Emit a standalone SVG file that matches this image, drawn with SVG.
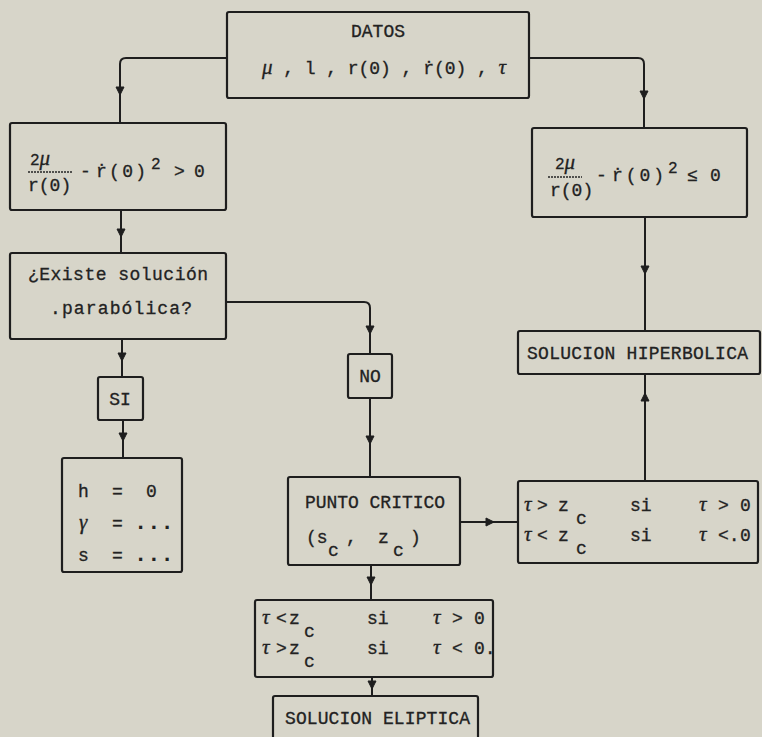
<svg xmlns="http://www.w3.org/2000/svg" xmlns:xlink="http://www.w3.org/1999/xlink" width="762" height="737" viewBox="0 0 762 737">
<style>
.bx{fill:#d7d5c9;stroke:#1e1e1e;stroke-width:2.2}
.ln{fill:none;stroke:#1e1e1e;stroke-width:2}
.ah{fill:#1e1e1e;stroke:#1e1e1e;stroke-width:1}
.t{font-family:"Liberation Mono","DejaVu Sans Mono",monospace;font-size:18px;fill:#222;stroke:#222;stroke-width:0.3}
.g{font-family:"Liberation Serif","DejaVu Serif",serif;font-style:italic;font-size:21px;fill:#222;stroke:#222;stroke-width:0.3}
.s{font-family:"Liberation Mono","DejaVu Sans Mono",monospace;font-size:16px;fill:#222;stroke:#222;stroke-width:0.3}
.d{font-family:"Liberation Mono","DejaVu Sans Mono",monospace;font-size:22px;font-weight:bold;fill:#222}
.bar{stroke:#242424;stroke-width:1.3;stroke-dasharray:2 1}
</style>
<defs>
<path id="ad" class="ah" d="M-4,-4 L4,-4 L0,4 Z"/>
</defs>
<rect width="762" height="737" fill="#d7d5c9"/>

<g id="connectors">
<path class="ln" d="M227,58 H126 Q120,58 120,64 V123"/>
<use xlink:href="#ad" x="120" y="91"/>
<path class="ln" d="M529,58 H638 Q644,58 644,64 V128"/>
<use xlink:href="#ad" x="644" y="95"/>
<path class="ln" d="M121,210 V253"/>
<use xlink:href="#ad" x="121" y="233"/>
<path class="ln" d="M122,339 V377"/>
<use xlink:href="#ad" x="122" y="357"/>
<path class="ln" d="M123,420 V458"/>
<use xlink:href="#ad" x="123" y="437"/>
<path class="ln" d="M226,302 H364 Q370,302 370,308 V354"/>
<use xlink:href="#ad" x="370" y="330"/>
<path class="ln" d="M370,398 V477"/>
<use xlink:href="#ad" x="370" y="440"/>
<path class="ln" d="M460,522 H518"/>
<use xlink:href="#ad" transform="translate(490,522) rotate(-90)"/>
<path class="ln" d="M645,217 V331"/>
<use xlink:href="#ad" x="645" y="270"/>
<path class="ln" d="M645,481 V374"/>
<use xlink:href="#ad" transform="translate(645,397) rotate(180)"/>
<path class="ln" d="M371,565 V600"/>
<use xlink:href="#ad" x="371" y="581"/>
<path class="ln" d="M372,677 V696"/>
<use xlink:href="#ad" x="372" y="685"/>
</g>

<g id="datos">
<rect class="bx" x="227" y="12" width="302" height="86" rx="2"/>
<text class="t" x="378" y="37" text-anchor="middle">DATOS</text>
<text class="t" x="262" y="74" textLength="244"><tspan class="g">μ</tspan> , l , r(0) , ṙ(0) , <tspan class="g">τ</tspan></text>
</g>

<g id="cond-pos">
<rect class="bx" x="10" y="123" width="216" height="87" rx="2"/>
<text class="s" x="30" y="165"><tspan>2</tspan><tspan class="g" font-size="17">μ</tspan></text>
<line class="bar" x1="28" y1="172" x2="72" y2="172"/>
<text class="t" x="28" y="191" font-size="19">r(0)</text>
<text class="t" x="80" y="177" font-size="19">-</text>
<text class="t" x="96" y="177" font-size="19" textLength="50">ṙ(0)</text>
<text class="s" x="151" y="169" font-size="12">2</text>
<text class="t" x="174" y="177" font-size="19">&gt;</text>
<text class="t" x="194" y="177" font-size="19">0</text>
</g>

<g id="cond-neg">
<rect class="bx" x="532" y="128" width="215" height="89" rx="2"/>
<text class="s" x="555" y="169"><tspan>2</tspan><tspan class="g" font-size="17">μ</tspan></text>
<line class="bar" x1="548" y1="177" x2="582" y2="177"/>
<text class="t" x="550" y="196" font-size="19">r(0)</text>
<text class="t" x="596" y="181" font-size="19">-</text>
<text class="t" x="612" y="181" font-size="19" textLength="52">ṙ(0)</text>
<text class="s" x="668" y="173" font-size="12">2</text>
<text class="t" x="687" y="181" font-size="19">≤</text>
<text class="t" x="710" y="181" font-size="19">0</text>
</g>

<g id="existe">
<rect class="bx" x="10" y="253" width="216" height="86" rx="2"/>
<text class="t" x="28" y="280" textLength="180">¿Existe solución</text>
<text class="t" x="50" y="314" textLength="142">.parabólica?</text>
</g>

<g id="si">
<rect class="bx" x="98" y="377" width="45" height="43" rx="2"/>
<text class="t" x="120" y="405" text-anchor="middle">SI</text>
</g>

<g id="hbox">
<rect class="bx" x="62" y="458" width="120" height="114" rx="2"/>
<text class="t" x="78" y="497">h</text>
<text class="t" x="112" y="497">=</text>
<text class="t" x="146" y="497">0</text>
<text class="g" x="79" y="529">γ</text>
<text class="t" x="112" y="529">=</text>
<text class="d" x="134" y="529">...</text>
<text class="t" x="78" y="561">s</text>
<text class="t" x="112" y="561">=</text>
<text class="d" x="134" y="561">...</text>
</g>

<g id="no">
<rect class="bx" x="348" y="354" width="44" height="44" rx="2"/>
<text class="t" x="370" y="382" text-anchor="middle">NO</text>
</g>

<g id="punto">
<rect class="bx" x="288" y="477" width="172" height="88" rx="2"/>
<text class="t" x="305" y="508" textLength="140">PUNTO CRITICO</text>
<text class="t" x="306" y="543">(s</text>
<text class="t" x="328" y="556" font-size="16">c</text>
<text class="t" x="346" y="543">,</text>
<text class="t" x="378" y="543">z</text>
<text class="t" x="393" y="556" font-size="16">c</text>
<text class="t" x="410" y="543">)</text>
</g>

<g id="tau-hip">
<rect class="bx" x="518" y="481" width="240" height="82" rx="2"/>
<text class="g" x="524" y="511">τ</text>
<text class="t" x="537" y="511">&gt;</text>
<text class="t" x="558" y="511">z</text>
<text class="t" x="576" y="524" font-size="16">c</text>
<text class="t" x="630" y="511">si</text>
<text class="g" x="699" y="511">τ</text>
<text class="t" x="718" y="511">&gt;</text>
<text class="t" x="740" y="511">0</text>
<text class="g" x="524" y="541">τ</text>
<text class="t" x="537" y="541">&lt;</text>
<text class="t" x="558" y="541">z</text>
<text class="t" x="576" y="554" font-size="16">c</text>
<text class="t" x="630" y="541">si</text>
<text class="g" x="699" y="541">τ</text>
<text class="t" x="718" y="541">&lt;.</text>
<text class="t" x="740" y="541">0</text>
</g>

<g id="hiperbolica">
<rect class="bx" x="518" y="331" width="242" height="43" rx="2"/>
<text class="t" x="527" y="359" textLength="221">SOLUCION HIPERBOLICA</text>
</g>

<g id="tau-eli">
<rect class="bx" x="255" y="600" width="238" height="77" rx="2"/>
<text class="g" x="262" y="624">τ</text>
<text class="t" x="276" y="624">&lt;</text>
<text class="t" x="289" y="624">z</text>
<text class="t" x="304" y="637" font-size="16">c</text>
<text class="t" x="367" y="624">si</text>
<text class="g" x="433" y="624">τ</text>
<text class="t" x="452" y="624">&gt;</text>
<text class="t" x="474" y="624">0</text>
<text class="g" x="262" y="654">τ</text>
<text class="t" x="276" y="654">&gt;</text>
<text class="t" x="289" y="654">z</text>
<text class="t" x="304" y="667" font-size="16">c</text>
<text class="t" x="367" y="654">si</text>
<text class="g" x="433" y="654">τ</text>
<text class="t" x="452" y="654">&lt;</text>
<text class="t" x="474" y="654">0.</text>
</g>

<g id="eliptica">
<rect class="bx" x="273" y="696" width="205" height="52" rx="2"/>
<text class="t" x="285" y="724" textLength="185">SOLUCION ELIPTICA</text>
</g>
</svg>
